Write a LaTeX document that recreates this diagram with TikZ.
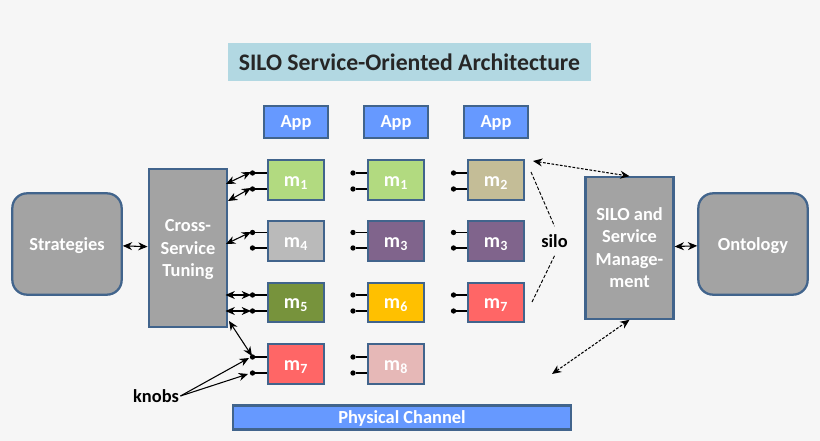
\documentclass[tikz,border=0pt]{standalone}
\usepackage{fontspec}
\setmainfont{Carlito}
\usetikzlibrary{arrows.meta}
\definecolor{edgeb}{HTML}{41648C}
\definecolor{grayb}{HTML}{A3A3A3}
\definecolor{blueb}{HTML}{6699FF}
\definecolor{titleb}{HTML}{B2D8E2}
\definecolor{bgc}{HTML}{F6F6F6}
\tikzset{
  x=0.75pt,y=-0.75pt,
  boxb/.style={draw=edgeb,line width=1.7pt,inner sep=0pt,text=white,font=\bfseries,align=center,anchor=center},
  gbox/.style={boxb,fill=grayb,font=\fontsize{13.8pt}{16.6pt}\bfseries\selectfont},
  modb/.style={boxb,minimum width=41.5pt,minimum height=29.5pt,font=\fontsize{15pt}{17pt}\bfseries\selectfont},
  appb/.style={boxb,fill=blueb,minimum width=47.5pt,minimum height=23.5pt,font=\fontsize{13.8pt}{16pt}\bfseries\selectfont},
  knob/.style={circle,fill=black,inner sep=0pt,minimum size=4pt},
  stub/.style={draw=black,line width=0.8pt},
  link/.style={draw=black,line width=0.8pt,{Stealth[length=7pt,width=6pt]}-{Stealth[length=7pt,width=6pt]}},
  dlink/.style={link,dash pattern=on 2pt off 1.2pt},
  plainarr/.style={draw=black,line width=0.8pt,-{Stealth[length=7pt,width=6pt]}},
  dline/.style={draw=black,line width=0.7pt,dash pattern=on 2.6pt off 1.4pt},
  lab/.style={text=black,font=\fontsize{13.8pt}{16pt}\bfseries\selectfont},
}
\newcommand{\mm}[1]{\dn{m\textsubscript{#1}}}
\newcommand{\dn}[1]{\raisebox{-1.2pt}[\height][\depth]{\begin{tabular}{@{}c@{}}#1\end{tabular}}}
\begin{document}
\begin{tikzpicture}
\useasboundingbox (0,0) rectangle (820,441);
\fill[bgc] (0,0) rectangle (820,441);
% title
\node[fill=titleb,minimum width=272.5pt,minimum height=28.5pt,inner sep=0pt,font=\fontsize{17.8pt}{20pt}\bfseries\selectfont,text=black!85] (title) at (409.5,62) {SILO Service-Oriented Architecture};
% apps
\node[appb] (app1) at (296,122) {\dn{App}};
\node[appb] (app2) at (396,122) {\dn{App}};
\node[appb] (app3) at (496,122) {\dn{App}};
% big boxes
\node[gbox,rounded corners=11pt,minimum width=82pt,minimum height=76pt] (strat) at (67,244) {\dn{Strategies}};
\node[gbox,minimum width=59pt,minimum height=118pt] (cross) at (188,248) {\dn{Cross-\\Service\\Tuning}};
\node[gbox,minimum width=66pt,minimum height=106pt] (mgmt) at (629.5,248) {\dn{SILO and\\Service\\Manage-\\ment}};
\node[gbox,rounded corners=11pt,minimum width=82pt,minimum height=76pt] (onto) at (753,244) {\dn{Ontology}};
\node[boxb,fill=blueb,minimum width=254pt,minimum height=18pt,text=white,font=\fontsize{13.8pt}{15pt}\bfseries\selectfont] (phys) at (402,417.5) {\dn{Physical Channel}};
% modules
\node[modb,fill={rgb,255:red,178;green,218;blue,128}] (a1) at (296,180) {\mm{1}};
\node[modb,fill={rgb,255:red,186;green,186;blue,186}] (a2) at (296,241) {\mm{4}};
\node[modb,fill={rgb,255:red,119;green,147;blue,60}] (a3) at (296,302.5) {\mm{5}};
\node[modb,fill={rgb,255:red,255;green,102;blue,102}] (a4) at (296,364) {\mm{7}};
\node[modb,fill={rgb,255:red,178;green,218;blue,128}] (b1) at (396,180) {\mm{1}};
\node[modb,fill={rgb,255:red,128;green,100;blue,140}] (b2) at (396,241) {\mm{3}};
\node[modb,fill={rgb,255:red,255;green,192;blue,0}] (b3) at (396,302.5) {\mm{6}};
\node[modb,fill={rgb,255:red,230;green,184;blue,183}] (b4) at (396,364) {\mm{8}};
\node[modb,fill={rgb,255:red,196;green,189;blue,151}] (c1) at (496,180) {\mm{2}};
\node[modb,fill={rgb,255:red,128;green,100;blue,140}] (c2) at (496,241) {\mm{3}};
\node[modb,fill={rgb,255:red,255;green,102;blue,102}] (c3) at (496,302.5) {\mm{7}};
% knobs
\foreach \col/\xx in {a/252.5,b/353,c/453.5}{
  \foreach \row/\ya/\yb in {1/173/189,2/232.5/248,3/295/311,4/357/373}{
    \ifnum\row=4 \if\col c\else
      \node[knob] (\col\row u) at (\xx,\ya) {};
      \node[knob] (\col\row d) at (\xx,\yb) {};
      \draw[stub] (\col\row u) -- (\col\row u -| \col\row.west);
      \draw[stub] (\col\row d) -- (\col\row d -| \col\row.west);
    \fi\else
      \node[knob] (\col\row u) at (\xx,\ya) {};
      \node[knob] (\col\row d) at (\xx,\yb) {};
      \draw[stub] (\col\row u) -- (\col\row u -| \col\row.west);
      \draw[stub] (\col\row d) -- (\col\row d -| \col\row.west);
    \fi
  }
}
% tuning links
\coordinate (t1) at (226,184);
\coordinate (t2) at (228,201);
\coordinate (t3) at (226,244);
\coordinate (t4) at (225.5,295);
\coordinate (t5) at (225.5,311);
\coordinate (t6) at (229,321);
\coordinate (k1) at (251,172);
\coordinate (k2) at (251,188);
\coordinate (k3) at (251,232);
\coordinate (k4) at (251,295);
\coordinate (k5) at (251,311);
\coordinate (k6) at (252,356);
\draw[link] (t1) -- (k1);
\draw[link] (t2) -- (k2);
\draw[link] (t3) -- (k3);
\draw[link] (t4) -- (k4);
\draw[link] (t5) -- (k5);
\draw[link] (t6) -- (k6);
\draw[link] (strat) -- (cross);
\draw[link] (mgmt) -- (onto);
% knobs label
\node[lab,inner xsep=1pt] (kn) at (156,396) {knobs};
\coordinate (ka) at (249,358);
\coordinate (kb) at (248,374);
\draw[plainarr] (kn.east) -- (ka);
\draw[plainarr] (kn.east) -- (kb);
% silo
\node[lab,inner ysep=6pt] (silo) at (554.5,241) {silo};
\coordinate (s1) at (531,172);
\coordinate (s2) at (532,302);
\draw[dline] (s1) -- (silo.north);
\draw[dline] (s2) -- (silo.south);
% dashed management
\coordinate (d1) at (533,161);
\coordinate (d2) at (552,374);
\draw[dlink] (d1) -- (mgmt.north);
\draw[dlink] (d2) -- (mgmt.south);
\end{tikzpicture}
\end{document}
